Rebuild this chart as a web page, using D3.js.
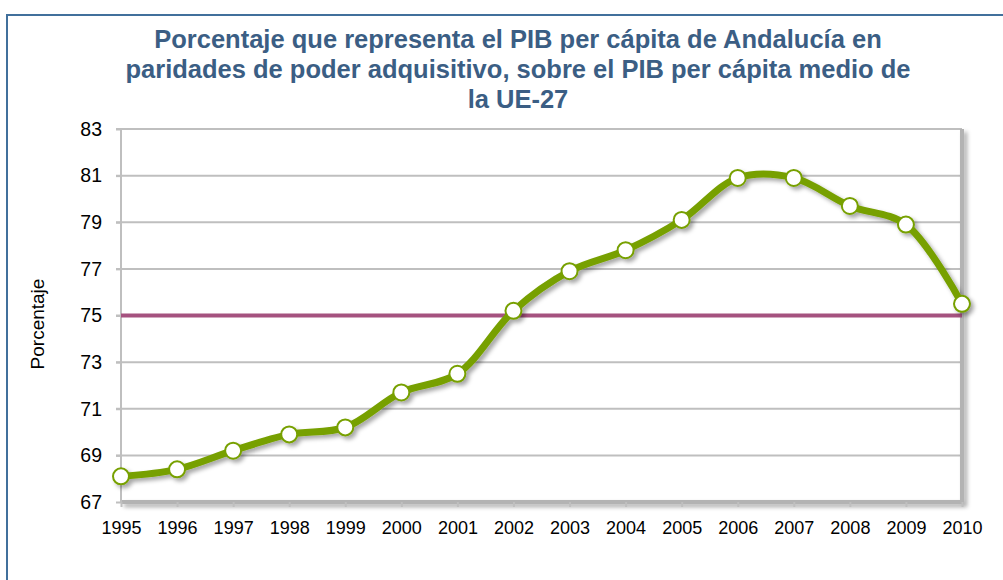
<!DOCTYPE html>
<meta charset="utf-8">
<style>
body{margin:0;background:#fff;}
text{font-family:"Liberation Sans",Arial,sans-serif;}
.grid line{stroke:#bfbfbf;stroke-width:2;}
</style>
<body>
<script src="https://d3js.org/d3.v7.min.js"></script>
<script>

var years=['1995','1996','1997','1998','1999','2000','2001','2002','2003','2004','2005','2006','2007','2008','2009','2010'];
var values=[68.1,68.4,69.2,69.9,70.2,71.7,72.5,75.2,76.9,77.8,79.1,80.9,80.9,79.7,78.9,75.5];
var reference=75;
var yTicks=[67,69,71,73,75,77,79,81,83];
var titleLines=['Porcentaje que representa el PIB per cápita de Andalucía en',
  'paridades de poder adquisitivo, sobre el PIB per cápita medio de',
  'la UE-27'];

var W=1003,H=580;
var m={left:121,right:41,top:129,bottom:78};

var svg=d3.select("body").append("svg").attr("width",W).attr("height",H);

var defs=svg.append("defs");
var f=defs.append("filter").attr("id","shadow").attr("x","-10%").attr("y","-10%").attr("width","130%").attr("height","130%");
f.append("feDropShadow").attr("dx",3).attr("dy",3).attr("stdDeviation",2).attr("flood-color","#000").attr("flood-opacity",0.35);

// outer frame
svg.append("rect").attr("x",7).attr("y",15).attr("width",W+20).attr("height",H+20)
  .attr("fill","none").attr("stroke","#41709c").attr("stroke-width",2);

var x=d3.scalePoint().domain(years).range([m.left,W-m.right]);
var y=d3.scaleLinear().domain([67,83]).range([H-m.bottom,m.top]);

// title
svg.append("text").attr("x",518).attr("y",48).attr("text-anchor","middle")
  .attr("fill","#3b5e84").style("font-weight","bold").style("font-size","25.5px")
  .selectAll("tspan").data(titleLines).enter().append("tspan")
  .attr("x",518).attr("dy",(d,i)=>i?30:0).text(d=>d);

// grid
svg.append("g").attr("class","grid")
  .selectAll("line").data(yTicks.slice(1)).enter().append("line")
  .attr("x1",m.left-5).attr("x2",W-m.right).attr("y1",d=>y(d)).attr("y2",d=>y(d));

// plot frame right/bottom with shadow
svg.append("path")
  .attr("d","M"+(W-m.right)+","+m.top+"V"+(H-m.bottom)+"H"+(m.left))
  .attr("fill","none").attr("stroke","#b3b3b3").attr("stroke-width",4)
  .attr("filter","url(#shadow)");

// y axis
var ya=svg.append("g").attr("transform","translate("+m.left+",0)")
  .call(d3.axisLeft(y).tickValues(yTicks).tickSize(5).tickPadding(14));
ya.select(".domain").attr("stroke","#bfbfbf").attr("stroke-width",2).attr("d","M0,"+m.top+"V"+(H-m.bottom));
ya.selectAll(".tick line").attr("stroke","#bfbfbf").attr("stroke-width",2);
ya.selectAll(".tick text").style("font-size","19.5px").attr("fill","#000").attr("font-family",null);

// x axis
var xa=svg.append("g").attr("transform","translate(0,"+(H-m.bottom)+")")
  .call(d3.axisBottom(x).tickSize(5).tickPadding(14));
xa.select(".domain").remove();
xa.selectAll(".tick line").attr("stroke","#bfbfbf").attr("stroke-width",2);
xa.selectAll(".tick text").style("font-size","18px").attr("fill","#000").attr("font-family",null);

// y label
svg.append("text").attr("transform","translate(44,324) rotate(-90)")
  .attr("text-anchor","middle").style("font-size","19px").text("Porcentaje");

// reference line
svg.append("line").attr("x1",m.left).attr("x2",W-m.right)
  .attr("y1",y(reference)).attr("y2",y(reference))
  .attr("stroke","#a5527f").attr("stroke-width",4);

// series
var data=years.map((d,i)=>({year:d,value:values[i]}));
var line=d3.line().x(d=>x(d.year)).y(d=>y(d.value)).curve(d3.curveCatmullRom.alpha(0.5));
var sg=svg.append("g").attr("filter","url(#shadow)");
sg.append("path").datum(data).attr("d",line)
  .attr("fill","none").attr("stroke","#77a000").attr("stroke-width",7).attr("stroke-linejoin","round");
sg.selectAll("circle").data(data).enter().append("circle")
  .attr("cx",d=>x(d.year)).attr("cy",d=>y(d.value)).attr("r",8)
  .attr("fill","#fff").attr("stroke","#77a000").attr("stroke-width",2);

</script>
</body>
